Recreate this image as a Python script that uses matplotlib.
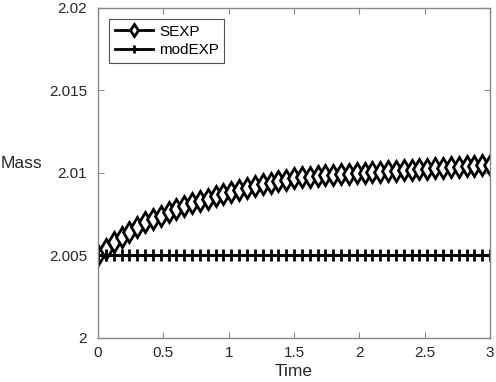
import numpy as np
import matplotlib.pyplot as plt

plt.rcParams["font.family"] = ["Liberation Sans", "DejaVu Sans"]

# time samples (step 0.06 from 0 to 3)
time = [0.00, 0.06, 0.12, 0.18, 0.24, 0.30, 0.36, 0.42, 0.48, 0.54,
        0.60, 0.66, 0.72, 0.78, 0.84, 0.90, 0.96, 1.02, 1.08, 1.14,
        1.20, 1.26, 1.32, 1.38, 1.44, 1.50, 1.56, 1.62, 1.68, 1.74,
        1.80, 1.86, 1.92, 1.98, 2.04, 2.10, 2.16, 2.22, 2.28, 2.34,
        2.40, 2.46, 2.52, 2.58, 2.64, 2.70, 2.76, 2.82, 2.88, 2.94,
        3.00]

# mass
sexp = [2.00500, 2.00540, 2.00580, 2.00615, 2.00645, 2.00675, 2.00700, 2.00722, 2.00742, 2.00762,
        2.00780, 2.00798, 2.00815, 2.00830, 2.00845, 2.00860, 2.00873, 2.00886, 2.00898, 2.00910,
        2.00921, 2.00931, 2.00941, 2.00951, 2.00960, 2.00967, 2.00973, 2.00978, 2.00983, 2.00987,
        2.00990, 2.00993, 2.00996, 2.00999, 2.01002, 2.01005, 2.01008, 2.01011, 2.01014, 2.01017,
        2.01020, 2.01023, 2.01026, 2.01029, 2.01032, 2.01035, 2.01038, 2.01041, 2.01044, 2.01047,
        2.01050]
modexp = [2.005] * len(time)

fig = plt.figure(figsize=(4.96, 3.82), dpi=100)
ax = fig.add_axes([0.1976, 0.1152, 0.7904, 0.864])

ax.plot(time, sexp, color="black", linewidth=2, marker="d", markersize=10,
        markerfacecolor="white", markeredgecolor="black", markeredgewidth=2,
        label="SEXP")
ax.plot(time, modexp, color="black", linewidth=2, marker="+", markersize=8,
        markeredgewidth=2, label="modEXP")

ax.set_xlim(0, 3)
ax.set_ylim(2, 2.02)
ax.set_xticks([0, 0.5, 1, 1.5, 2, 2.5, 3])
ax.set_xticklabels(["0", "0.5", "1", "1.5", "2", "2.5", "3"])
ax.set_yticks([2, 2.005, 2.01, 2.015, 2.02])
ax.set_yticklabels(["2", "2.005", "2.01", "2.015", "2.02"])

for s in ax.spines.values():
    s.set_color("#888888")
    s.set_linewidth(1)
ax.tick_params(direction="in", top=True, right=True, length=4, width=0.8,
               color="#888888", labelsize=11, labelcolor="#262626")
ax.tick_params(axis="y", pad=8)
ax.tick_params(axis="x", pad=6)

ax.set_xlabel("Time", fontsize=12.5, color="#262626", labelpad=3)
ax.set_ylabel("Mass", fontsize=12.5, color="#262626", rotation=0,
              ha="center", va="center")
ax.yaxis.set_label_coords(-0.196, 0.53)

leg = ax.legend(loc="upper left", fontsize=11, frameon=True, fancybox=False,
                edgecolor="#262626", handlelength=2.5, borderpad=0.35,
                labelspacing=0.3, handletextpad=0.4, borderaxespad=0.75,
                markerscale=0.65)
leg.get_frame().set_linewidth(0.8)

fig.savefig("out.png", dpi=100)
